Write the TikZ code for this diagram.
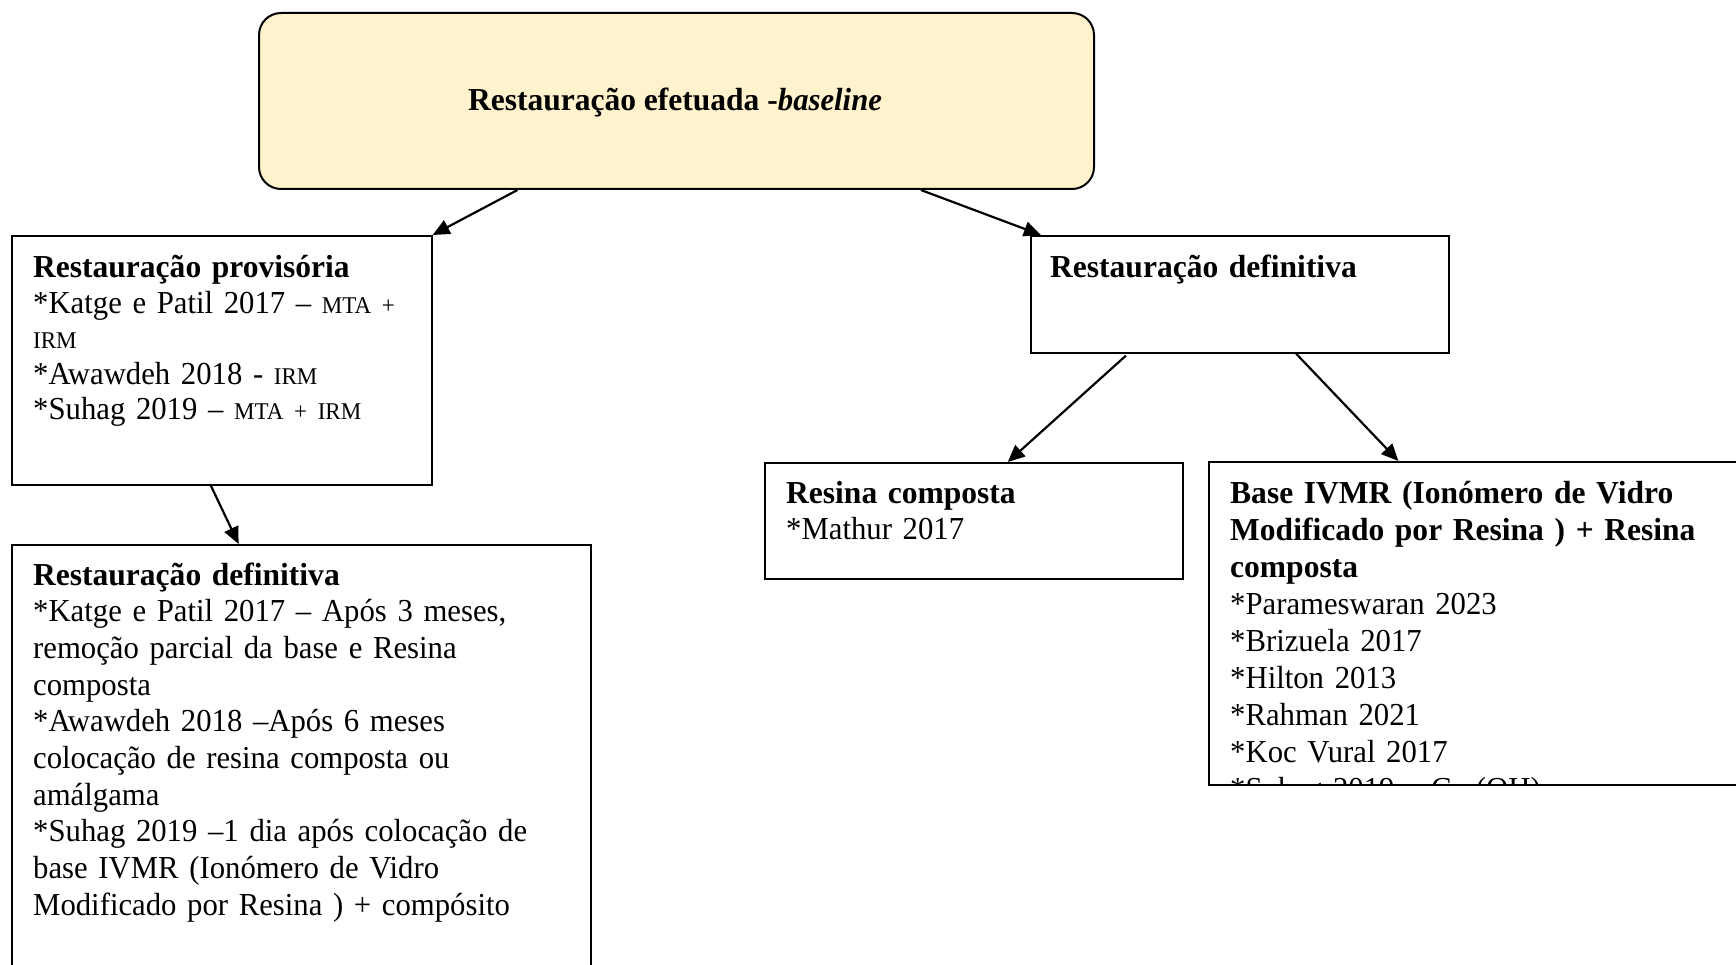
\documentclass[tikz,border=0pt]{standalone}
\usepackage{fontspec}
\setmainfont{Liberation Serif}[UprightFeatures={FakeStretch=0.96},BoldFeatures={FakeStretch=0.985},ItalicFeatures={FakeStretch=0.96},BoldItalicFeatures={FakeStretch=0.96}]
\usetikzlibrary{arrows.meta,calc}
\definecolor{topfill}{HTML}{FFF2CC}
\newcommand{\sm}[1]{{\fontsize{24}{28}\selectfont #1}}
\begin{document}
\begin{tikzpicture}[x=1pt,y=-1pt,
  boxstyle/.style={draw=black,line width=1.6pt,inner sep=0pt,anchor=north west},
  txtstyle/.style={inner sep=0pt,anchor=base west,text width=700pt,align=left,
    font=\fontsize{32}{36.7}\selectfont},
  arr/.style={line width=2.2pt,-{Triangle[length=17pt,width=15pt]}}]
\clip (0,0) rectangle (1736,965);
\fill[white] (0,0) rectangle (1736,965);
% top box
\node[draw=black,line width=2pt,fill=topfill,rounded corners=22pt,inner sep=0pt,
  minimum width=835pt,minimum height=176pt,anchor=north west] (top) at (258,12) {};
\node[inner sep=0pt,anchor=base,font=\fontsize{32}{36.7}\selectfont] (topT) at (675,111)
  {\textbf{Restauração efetuada -\textit{baseline}}};
% boxes
\node[boxstyle,minimum width=420pt,minimum height=249pt] (prov) at (11,235) {};
\node[boxstyle,minimum width=418pt,minimum height=117pt] (defR) at (1030,235) {};
\node[boxstyle,minimum width=418pt,minimum height=116pt] (resina) at (764,462) {};
\node[boxstyle,minimum width=560pt,minimum height=323pt] (base) at (1208,461) {};
\node[boxstyle,minimum width=579pt,minimum height=460pt] (defL) at (11,544) {};
% texts
\node[txtstyle,font=\fontsize{32}{35.5}\selectfont] (provT) at (33,278)
 {\textbf{Restauração provisória}\\
  {*}Katge e Patil 2017 – \sm{MTA +}\\
  \sm{IRM}\\
  {*}Awawdeh 2018 - \sm{IRM}\\
  {*}Suhag 2019 – \sm{MTA + IRM}};
\node[txtstyle] (defRT) at (1050,278) {\textbf{Restauração definitiva}};
\node[txtstyle] (resT) at (786,503) {\textbf{Resina composta}\\ {*}Mathur 2017};
\begin{scope}
\clip (1209,462) rectangle (1736,783);
\node[txtstyle,font=\fontsize{32}{37}\selectfont] (baseT) at (1230,503)
 {\textbf{Base IVMR (Ionómero de Vidro}\\
  \textbf{Modificado por Resina ) + Resina}\\
  \textbf{composta}\\
  {*}Parameswaran 2023\\
  {*}Brizuela 2017\\
  {*}Hilton 2013\\
  {*}Rahman 2021\\
  {*}Koc Vural 2017\\
  {*}Suhag 2019 – Ca (OH)};
\end{scope}
\node[txtstyle] (defLT) at (33,585)
 {\textbf{Restauração definitiva}\\
  {*}Katge e Patil 2017 – Após 3 meses,\\
  remoção parcial da base e Resina\\
  composta\\
  {*}Awawdeh 2018 –Após 6 meses\\
  colocação de resina composta ou\\
  amálgama\\
  {*}Suhag 2019 –1 dia após colocação de\\
  base IVMR (Ionómero de Vidro\\
  Modificado por Resina ) + compósito};
% arrows
\draw[arr] ($(top.south west)!0.310!(top.south east)$) -- (prov.north east);
\draw[arr] ($(top.south west)!0.792!(top.south east)$) -- ($(defR.north west)!0.026!(defR.north east)$);
\draw[arr,shorten <=3pt] ($(defR.south west)!0.234!(defR.south east)$) -- ($(resina.north west)!0.581!(resina.north east)$);
\draw[arr] ($(defR.south west)!0.634!(defR.south east)$) -- ($(base.north west)!0.339!(base.north east)$);
\draw[arr] ($(prov.south west)!0.474!(prov.south east)$) -- ($(defL.north west)!0.392!(defL.north east)$);
\end{tikzpicture}
\end{document}
